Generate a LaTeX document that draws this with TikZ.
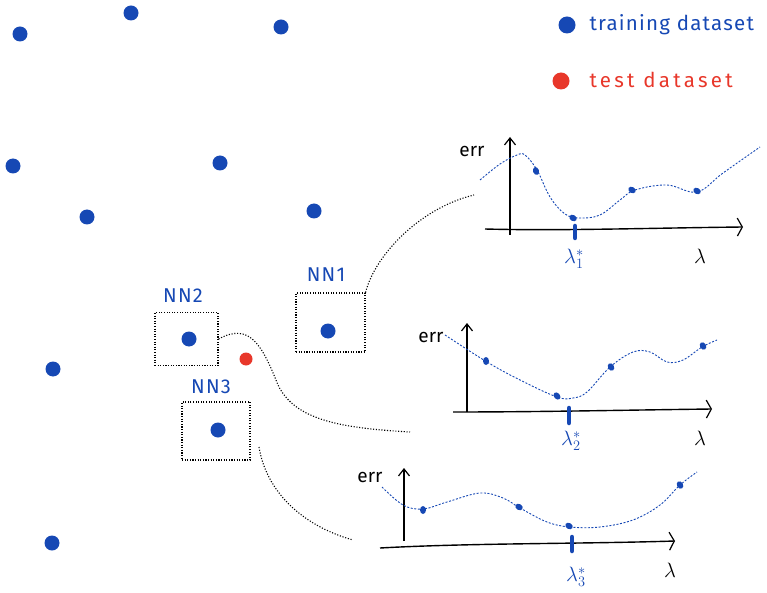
\documentclass[tikz,border=0pt]{standalone}
\usepackage{fontspec}
\setmainfont{Fira Sans}
\newfontfamily\handfont[LetterSpace=6]{Fira Sans}
\newfontfamily\handfontwide[LetterSpace=16]{Fira Sans}
\usetikzlibrary{arrows.meta,shapes.geometric}
\definecolor{nnblue}{RGB}{22,72,180}
\definecolor{nnred}{RGB}{232,55,42}
\begin{document}
\begin{tikzpicture}[x=1pt,y=-1pt,
  train/.style={circle,fill=nnblue,inner sep=0pt,minimum size=15pt},
  testpt/.style={circle,fill=nnred,inner sep=0pt,minimum size=13pt},
  legdot/.style={circle,inner sep=0pt,minimum size=17pt},
  legtext/.style={anchor=west,font=\handfont\fontsize{20.5}{23}\selectfont},
  nnbox/.style={draw=black,line width=1.1pt,dash pattern=on 1.1pt off 1.5pt,inner sep=0pt},
  nnlabel/.style={text=nnblue,font=\handfont\fontsize{20}{22}\selectfont},
  conn/.style={draw=black,line width=1.1pt,dash pattern=on 1.1pt off 1.7pt},
  axis/.style={draw=black,line width=1.4pt},
  xarr/.style={-{Straight Barb[length=5pt,width=18pt,line width=1.2pt]}},
  yarr/.style={-{Straight Barb[length=7pt,width=11pt,line width=1.2pt]}},
  errlbl/.style={anchor=east,font=\fontsize{19}{21}\selectfont},
  lamlbl/.style={font=\fontsize{20}{22}\selectfont},
  starlbl/.style={text=nnblue,font=\fontsize{21}{23}\selectfont},
  curve/.style={draw=nnblue,line width=0.9pt,dash pattern=on 2pt off 1.6pt},
  cdot/.style={ellipse,fill=nnblue,inner sep=0pt,minimum width=6pt,minimum height=8pt},
  optick/.style={draw=nnblue,line width=4.5pt,line cap=round}
]
\useasboundingbox (0,0) rectangle (767,593);

% training points
\node[train] (t1) at (20,34) {};
\node[train] (t2) at (131,13) {};
\node[train] (t3) at (281,27) {};
\node[train] (t4) at (13,166) {};
\node[train] (t5) at (220,163) {};
\node[train] (t6) at (87,217) {};
\node[train] (t7) at (314,211) {};
\node[train] (t8) at (53,369) {};
\node[train] (t9) at (52,543) {};

% legend
\node[legdot,fill=nnblue] (ldb) at (567,25) {};
\node[legtext,text=nnblue] (ltb) at (586,25) {training dataset};
\node[legdot,fill=nnred] (ldr) at (561,81) {};
\node[legtext,text=nnred,font=\handfontwide\fontsize{20.5}{23}\selectfont] (ltr) at (586,80) {test dataset};

% NN boxes
\node[nnbox,minimum width=69pt,minimum height=59pt] (box1) at (330.5,322.5) {};
\node[train] (p1) at (328,331) {};
\node[nnlabel] (nn1) at (326,275) {NN1};

\node[nnbox,minimum width=63pt,minimum height=53pt] (box2) at (186.5,339) {};
\node[train] (p2) at (189,339) {};
\node[nnlabel] (nn2) at (183,296) {NN2};

\node[nnbox,minimum width=68pt,minimum height=58pt] (box3) at (216,431) {};
\node[train] (p3) at (218,430) {};
\node[nnlabel] (nn3) at (211,387) {NN3};

% test point
\node[testpt] (test) at (246,359) {};

% connector end coordinates
\coordinate (e1) at (474,195);
\coordinate (e2) at (410,432);
\coordinate (e3) at (353,540);
\coordinate (s3) at (259,447);

\draw[conn] (box1.north east) .. controls (375,255) and (420,208) .. (e1);
\draw[conn] (box2.east) .. controls (250,322) and (262,345) .. (278,385)
  .. controls (295,420) and (340,428) .. (e2);
\draw[conn] (s3) .. controls (266,490) and (300,525) .. (e3);

% ---------- plot 1 ----------
\draw[axis,xarr] (485,229) .. controls (560,231) and (650,228) .. (743,227);
\draw[axis,yarr] (510,235) -- (510,137);
\node[errlbl] (err1) at (488,151) {err};
\node[lamlbl] (lam1) at (700,256) {$\lambda$};
\node[starlbl] (ls1) at (574,259) {$\lambda^*_1$};
\draw[curve] plot[smooth,tension=0.6] coordinates {(480,180) (500,164) (517,155) (525,155) (537,170) (550,197) (565,214) (580,218) (600,215) (620,200) (635,190) (667,185) (697,192) (723,173) (760,147)};
\node[cdot,rotate=20] (d11) at (536,171) {};
\node[cdot,rotate=60] (d12) at (573,218) {};
\node[cdot,rotate=60] (d13) at (632,190) {};
\node[cdot,rotate=60] (d14) at (697,191) {};
\draw[optick] (575,226) -- (575,238);

% ---------- plot 2 ----------
\draw[axis,xarr] (453,412) .. controls (540,412) and (630,410) .. (712,409);
\draw[axis,yarr] (467,412) -- (467,323);
\node[errlbl] (err2) at (447,337) {err};
\node[lamlbl] (lam2) at (700,438) {$\lambda$};
\node[starlbl] (ls2) at (571,441) {$\lambda^*_2$};
\draw[curve] plot[smooth,tension=0.6] coordinates {(445,335) (487,362) (520,380) (557,397) (573,398) (587,392) (610,367) (633,352) (650,352) (667,362) (683,360) (702,347) (717,340)};
\node[cdot] (d21) at (486,361) {};
\node[cdot,rotate=40] (d22) at (557,396) {};
\node[cdot,rotate=30] (d23) at (611,367) {};
\node[cdot,rotate=30] (d24) at (703,346) {};
\draw[optick] (569,408) -- (569,423);

% ---------- plot 3 ----------
\draw[axis,xarr] (380,548) .. controls (470,543) and (580,544) .. (675,541);
\draw[axis,yarr] (404,541) -- (404,468);
\node[errlbl] (err3) at (386,477) {err};
\node[lamlbl] (lam3) at (670,570) {$\lambda$};
\node[starlbl] (ls3) at (576,577) {$\lambda^*_3$};
\draw[curve] plot[smooth,tension=0.6] coordinates {(382,487) (403,505) (423,509) (447,502) (480,493) (503,498) (520,508) (547,522) (570,527) (600,527) (633,520) (660,505) (680,485) (697,472)};
\node[cdot] (d31) at (423,510) {};
\node[cdot,rotate=60] (d32) at (519,507) {};
\node[cdot,rotate=60] (d33) at (569,526) {};
\node[cdot,rotate=30] (d34) at (680,485) {};
\draw[optick] (572,537) -- (572,551);
\end{tikzpicture}
\end{document}
